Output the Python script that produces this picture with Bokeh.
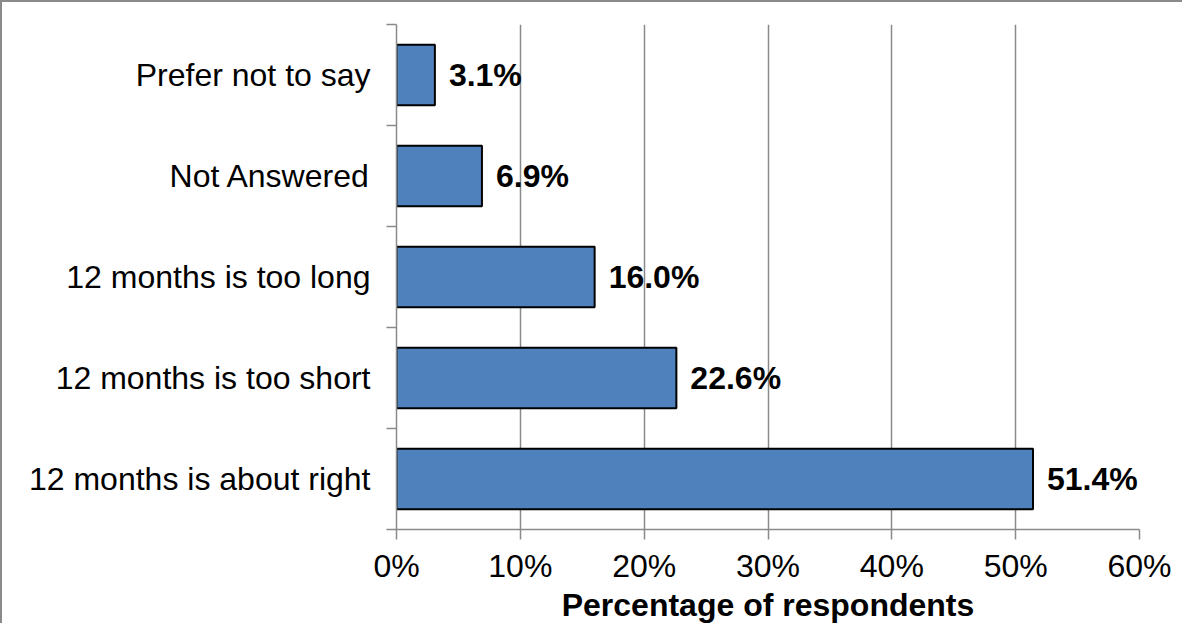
from bokeh.plotting import figure
from bokeh.models import ColumnDataSource, FixedTicker, PrintfTickFormatter, Range1d
from bokeh.core.properties import value
from bokeh.embed import file_html
from bokeh.resources import INLINE

categories = ["12 months is about right", "12 months is too short", "12 months is too long",
              "Not Answered", "Prefer not to say"]
percentages = [51.4, 22.6, 16.0, 6.9, 3.1]
x_ticks = [0, 10, 20, 30, 40, 50, 60]
x_title = "Percentage of respondents"

n = len(categories)
ypos = [i + 0.5 for i in range(n)]
labels = ["%.1f%%" % v for v in percentages]

src = ColumnDataSource(dict(y=ypos, v=percentages, lab=labels))

FONT = "Liberation Sans"
GRID = "#8a8a8a"

p = figure(width=1182, height=623, output_backend="svg", toolbar_location=None,
           x_range=Range1d(0, 60), y_range=Range1d(0, n),
           min_border_left=394, min_border_right=45, min_border_top=22, min_border_bottom=89)
p.outline_line_color = None
p.background_fill_color = "white"
p.border_fill_color = "white"

p.hbar(y="y", right="v", left=0, height=0.6, source=src,
       fill_color="#4F81BD", line_color="black", line_width=2)

p.text(x="v", y="y", text="lab", source=src, x_offset=14,
       text_font=value(FONT), text_font_size="32px", text_font_style="bold",
       text_baseline="middle", text_align="left", text_color="black")

# x axis
xa = p.xaxis[0]
xa.ticker = FixedTicker(ticks=x_ticks)
xa.formatter = PrintfTickFormatter(format="%d%%")
xa.axis_line_color = GRID
xa.axis_line_width = 1.5
xa.major_tick_line_color = GRID
xa.major_tick_line_width = 1.5
xa.major_tick_out = 10
xa.major_tick_in = 0
xa.minor_tick_line_color = None
xa.major_label_text_font = FONT
xa.major_label_text_font_size = "32px"
xa.major_label_text_color = "black"
xa.major_label_standoff = 8
xa.axis_label = x_title
xa.axis_label_text_font = FONT
xa.axis_label_text_font_size = "32px"
xa.axis_label_text_font_style = "bold"
xa.axis_label_text_color = "black"
xa.axis_label_standoff = 0

# y axis
ya = p.yaxis[0]
ya.ticker = FixedTicker(ticks=ypos, minor_ticks=list(range(n + 1)))
ya.major_label_overrides = {y: c for y, c in zip(ypos, categories)}
ya.axis_line_color = GRID
ya.axis_line_width = 1.5
ya.major_tick_line_color = None
ya.major_tick_out = 0
ya.major_tick_in = 0
ya.minor_tick_line_color = GRID
ya.minor_tick_line_width = 1.5
ya.minor_tick_out = 10
ya.minor_tick_in = 0
ya.major_label_text_font = FONT
ya.major_label_text_font_size = "32px"
ya.major_label_text_color = "black"
ya.major_label_standoff = 16

p.ygrid.grid_line_color = None
p.xgrid.ticker = FixedTicker(ticks=x_ticks)
p.xgrid.grid_line_color = GRID
p.xgrid.grid_line_width = 1.5

p.styles = {"border-left": "2px solid #8a8a8a", "border-top": "2px solid #8a8a8a"}

open("out.html", "w").write(file_html(p, INLINE))
